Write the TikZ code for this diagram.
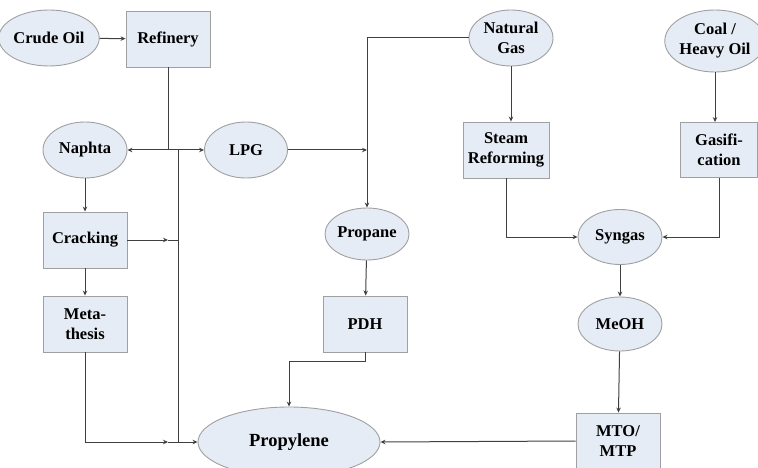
\documentclass[tikz,border=0pt]{standalone}
\usepackage{fontspec}
\setmainfont{Liberation Serif}
\usetikzlibrary{arrows.meta, shapes.geometric}
\definecolor{nodefill}{HTML}{E6ECF6}
\definecolor{nodeedge}{HTML}{A0A0A0}
\definecolor{linegray}{HTML}{404040}

\begin{document}
\begin{tikzpicture}[
    x=1pt, y=-1pt,
    every node/.style={font=\bfseries\fontsize{16.5}{20}\selectfont, align=center},
    stream/.style={draw=nodeedge, line width=0.9pt, ellipse, fill=nodefill, inner sep=0pt, minimum width=84, minimum height=56},
    unit/.style={draw=nodeedge, line width=0.9pt, rectangle, fill=nodefill, inner sep=0pt, minimum width=84, minimum height=56},
    flow/.style={-{Stealth[length=5pt, width=4.5pt]}, line width=1pt, linegray},
    pipe/.style={line width=1pt, linegray},
]

% Frame
\clip (0,0) rectangle (758,468);

% Feedstocks
\node[stream] (crude) at (49,38) {Crude Oil};
\node[stream] (natgas) at (511,38) {Natural\\Gas};
\node[stream, minimum width=88, minimum height=62] (coal) at (715,41) {Coal /\\Heavy Oil};

% Process units
\node[unit] (refinery) at (168,39) {Refinery};
\node[unit] (cracking) at (85,240) {Cracking};
\node[unit] (metathesis) at (85,324) {Meta-\\thesis};
\node[unit, minimum width=86] (steam) at (506,150) {Steam\\Reforming};
\node[unit, minimum width=77, minimum height=55] (gasif) at (719,150) {Gasifi-\\cation};
\node[unit] (pdh) at (365,324) {PDH};
\node[unit] (mto) at (618,441) {MTO/\\MTP};

% Intermediates
\node[stream] (naphta) at (85,150) {Naphta};
\node[stream, minimum width=83] (lpg) at (246,150) {LPG};
\node[stream, minimum height=52] (propane) at (367,234) {Propane};
\node[stream, minimum height=55] (syngas) at (620,237) {Syngas};
\node[stream, minimum height=54] (meoh) at (620,324) {MeOH};

% Product
\node[stream, minimum width=182, minimum height=70, font=\bfseries\fontsize{18.5}{20}\selectfont] (propylene) at (289,442) {Propylene};

% Junction points
\coordinate (jr) at (168,150);
\coordinate (bustop) at (178,150);
\coordinate (busbot) at (178,442);
\coordinate (jc) at (168,240);
\coordinate (jm) at (168,442);
\coordinate (jl) at (367,150);

% Refinery branch
\draw[flow] (crude) -- (refinery);
\draw[pipe] (refinery.south) -- (jr);
\draw[flow] (jr) -- (naphta.east);
\draw[flow] (jr) -- (lpg.west);
\draw[pipe] (bustop) -- (busbot);
\draw[flow] (naphta) -- (cracking);
\draw[flow] (cracking) -- (metathesis);
\draw[flow] (cracking.east) -- (jc);
\draw[pipe] (jc) -- (jc -| bustop);
\draw[flow] (metathesis.south) |- (jm);
\draw[pipe] (jm) -- (busbot);
\draw[flow] (busbot) -- (propylene.west);

% Propane route
\draw[flow] (lpg.east) -- (jl);
\draw[flow] (natgas.west) -| (propane.north);
\draw[flow] (propane) -- (pdh);
\draw[flow] (pdh.south) -- ++(0,9) -| (propylene.north);

% Syngas route
\draw[flow] (natgas.south) -- (natgas.south |- steam.north);
\draw[flow] (coal.south) -- (coal.south |- gasif.north);
\draw[flow] (steam.south) |- (syngas.west);
\draw[flow] (gasif.south) |- (syngas.east);
\draw[flow] (syngas) -- (meoh);
\draw[flow] (meoh) -- (mto);
\draw[flow] (mto.west) -- (propylene.east);

\end{tikzpicture}
\end{document}
